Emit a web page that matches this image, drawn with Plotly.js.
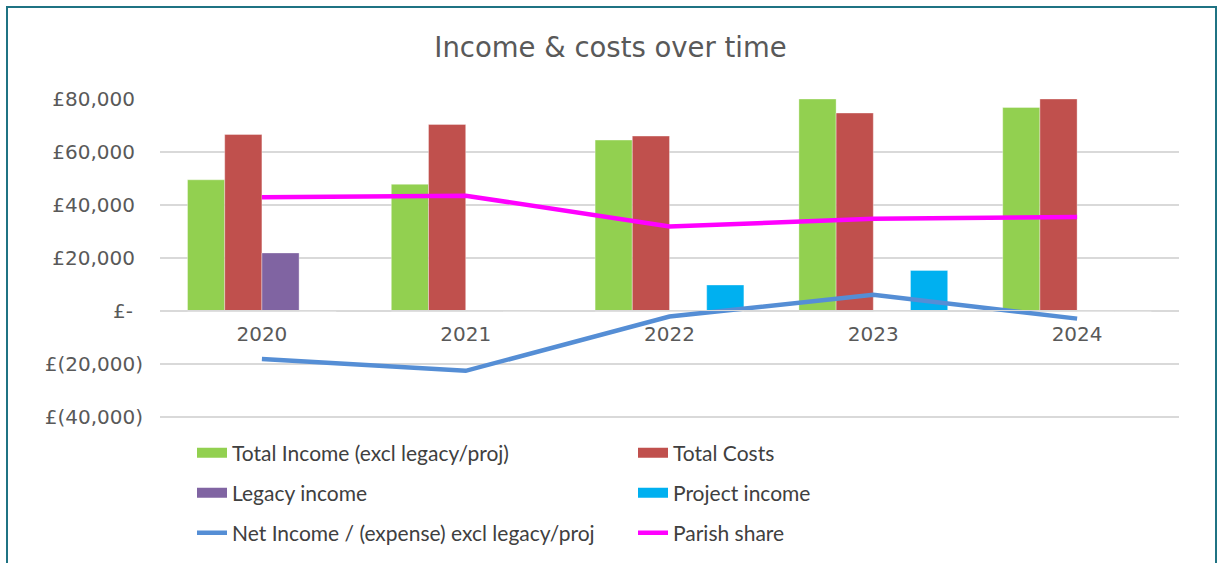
<!DOCTYPE html>
<html>
<head>
<meta charset="utf-8">
<script src="https://cdn.plot.ly/plotly-3.0.1.min.js"></script>
<style>
  html, body { margin: 0; padding: 0; background: #ffffff; }
  #wrap { position: relative; width: 1221px; height: 563px; overflow: hidden; }
  #chart { width: 1221px; height: 563px; }
  #frame { position: absolute; left: 6px; top: 6px; width: 1207px; height: 600px;
           border: 2px solid #1f7383; pointer-events: none; }
</style>
</head>
<body>
<div id="wrap">
  <div id="chart"></div>
  <div id="frame"></div>
</div>
<script>
// ---- data ----
var years = ['2020', '2021', '2022', '2023', '2024'];
var totalIncome = [49500, 47800, 64500, 80000, 76800];
var totalCosts = [66600, 70400, 66000, 74700, 80000];
var legacyIncome = [21900, 300, 0, 0, 0];
var projectIncome = [0, 0, 9800, 15300, 0];
var netIncome = [-18100, -22600, -2100, 6100, -2900];
var parishShare = [42900, 43500, 31900, 34800, 35500];

var yTickVals = [-40000, -20000, 0, 20000, 40000, 60000, 80000];
var yTickText = ['£(40,000)\u200A', '£(20,000)\u200A', '£-\u2002\u200A', '£20,000\u2002', '£40,000\u2002', '£60,000\u2002', '£80,000\u2002'];

var names = {
  inc: 'Total Income (excl legacy/proj)',
  cost: 'Total Costs',
  leg: 'Legacy income',
  proj: 'Project income',
  net: 'Net Income / (expense) excl legacy/proj',
  parish: 'Parish share'
};
var colors = {
  inc: '#92D050', cost: '#C0504D', leg: '#8064A2', proj: '#00B0F0',
  net: '#558ED5', parish: '#FF00FF'
};

function barTrace(key, vals) {
  return { type: 'bar', x: years, y: vals, name: names[key],
           marker: { color: colors[key], line: { color: 'rgba(255,255,255,0.35)', width: 1 } },
           showlegend: false, hoverinfo: 'skip' };
}
function legendSwatch(key, legendId) {
  return { type: 'scatter', mode: 'lines', x: [null], y: [null], name: names[key],
           line: { color: colors[key], width: 12 }, legend: legendId, hoverinfo: 'skip' };
}
function lineTrace(key, vals, legendId) {
  return { type: 'scatter', mode: 'lines', x: years, y: vals, name: names[key],
           line: { color: colors[key], width: 4.5 }, legend: legendId, hoverinfo: 'skip' };
}

var traces = [
  barTrace('inc', totalIncome),
  barTrace('cost', totalCosts),
  barTrace('leg', legacyIncome),
  barTrace('proj', projectIncome),
  legendSwatch('inc', 'legend'),
  legendSwatch('cost', 'legend'),
  legendSwatch('leg', 'legend2'),
  legendSwatch('proj', 'legend2'),
  lineTrace('net', netIncome, 'legend3'),
  lineTrace('parish', parishShare, 'legend3')
];

var legFont = { family: 'Lato, sans-serif', size: 21, color: '#404040' };
function legendCfg(yPix) {
  return { orientation: 'h', xref: 'container', yref: 'container',
           x: 192 / 1221, y: 1 - yPix / 563, xanchor: 'left', yanchor: 'middle',
           entrywidth: 396, entrywidthmode: 'pixels', font: legFont,
           bgcolor: 'rgba(0,0,0,0)', traceorder: 'normal' };
}

var layout = {
  width: 1221, height: 563,
  margin: { l: 160, r: 42, t: 99, b: 145 },
  paper_bgcolor: '#ffffff', plot_bgcolor: '#ffffff',
  barmode: 'group', bargap: 0.27, bargroupgap: 0,
  title: { text: 'Income &amp; costs over time', xref: 'container', x: 0.5, xanchor: 'center',
           yref: 'container', y: 1 - 47 / 563, yanchor: 'middle',
           font: { family: 'DejaVu Sans, sans-serif', size: 27.5, color: '#595959' } },
  font: { family: 'DejaVu Sans, sans-serif', color: '#595959' },
  xaxis: { type: 'category', anchor: 'free', position: (418 - 309.5) / 319,
           showgrid: false, showline: true, linecolor: '#d9d9d9', linewidth: 1.5,
           zeroline: false, ticks: '', ticklabelstandoff: 6,
           tickfont: { family: 'DejaVu Sans, sans-serif', size: 20, color: '#595959' } },
  yaxis: { range: [-40400, 80000], tickvals: yTickVals, ticktext: yTickText,
           showgrid: true, gridcolor: '#d9d9d9', gridwidth: 1.5, zeroline: false,
           showline: false, ticks: '', ticklabelstandoff: 14,
           tickfont: { family: 'DejaVu Sans, sans-serif', size: 20, color: '#595959' } },
  legend: legendCfg(453),
  legend2: legendCfg(493),
  legend3: legendCfg(533),
  hovermode: false
};

Plotly.newPlot('chart', traces, layout, { displayModeBar: false, staticPlot: true });
</script>
</body>
</html>
